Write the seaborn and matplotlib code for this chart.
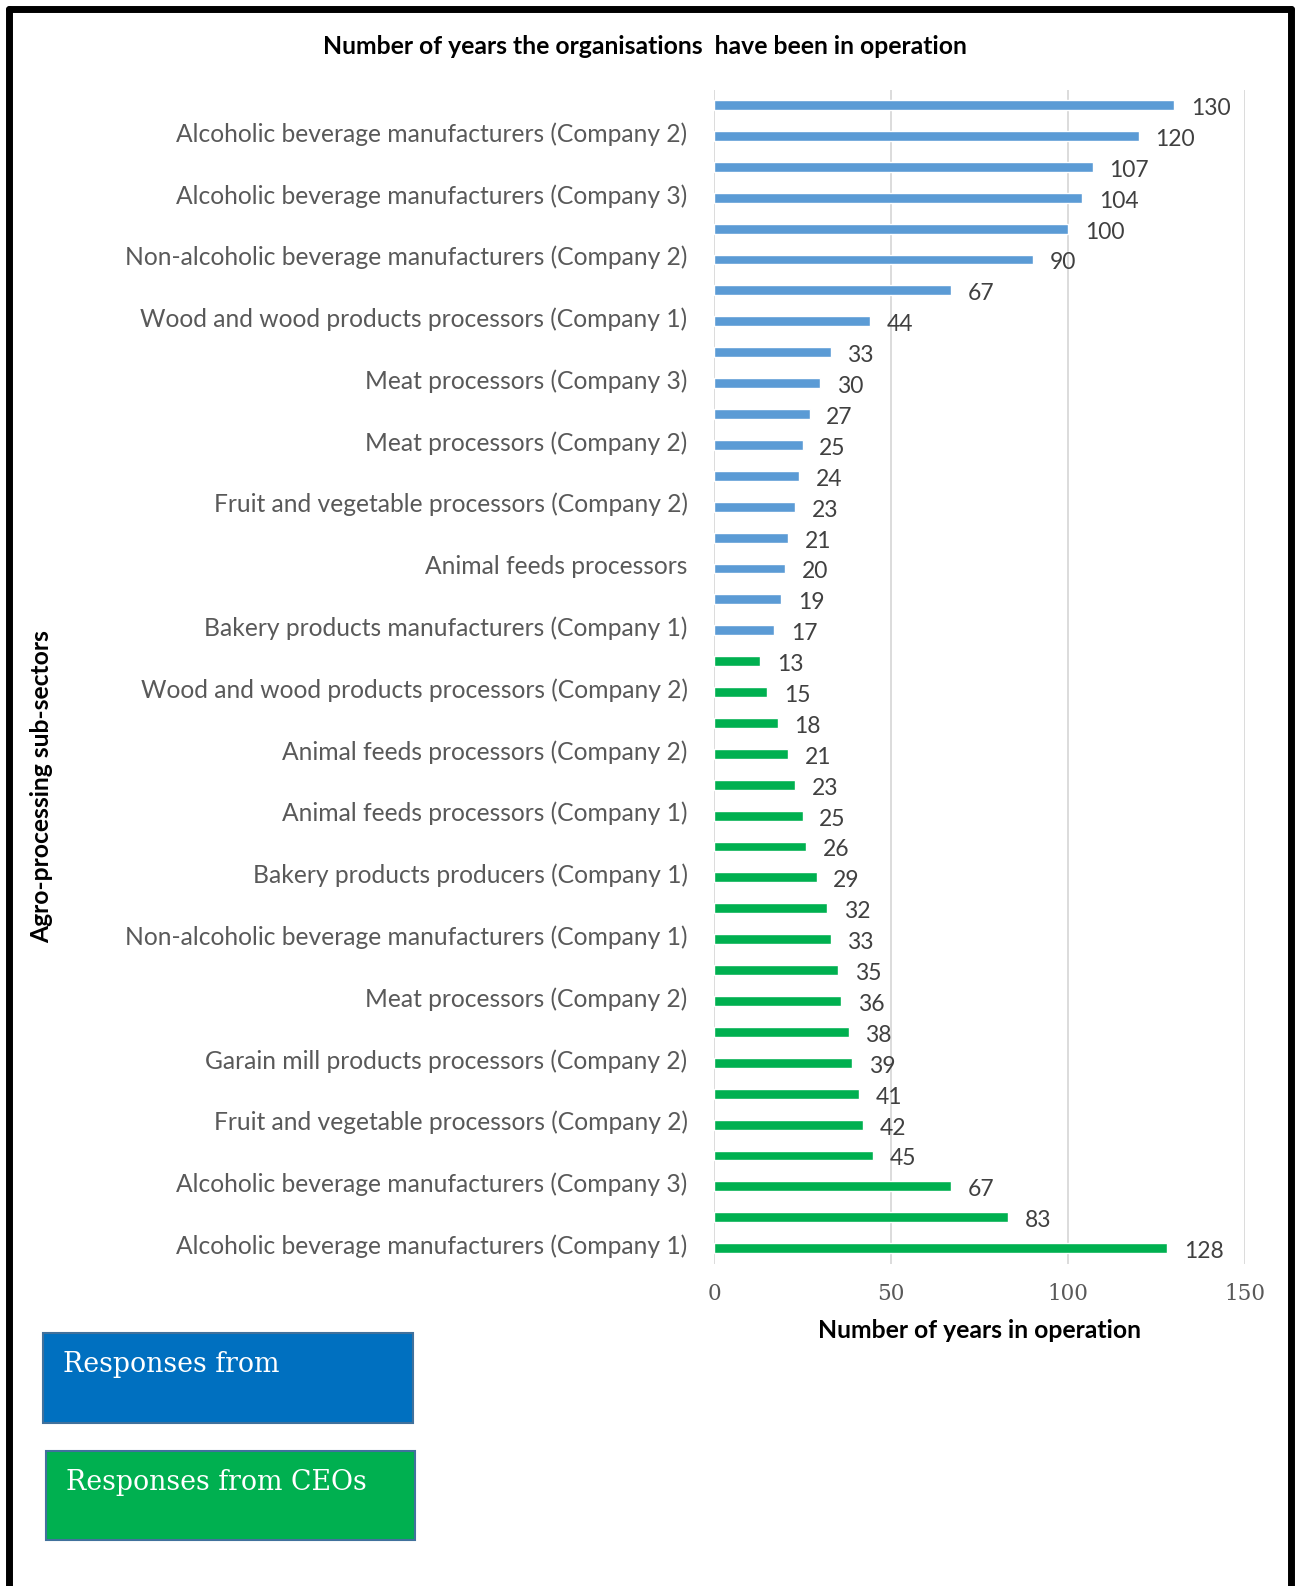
"""
Years in operation of agro-processing organisations, horizontal bar chart.
"""

import pandas as pd
import matplotlib.pyplot as plt
from matplotlib.patches import Rectangle
from matplotlib.lines import Line2D
from matplotlib.transforms import ScaledTranslation
import seaborn as sns

# data, top of chart first
manager_years = [130, 120, 107, 104, 100, 90, 67, 44, 33, 30, 27, 25, 24, 23, 21, 20, 19, 17]
ceo_years = [13, 15, 18, 21, 23, 25, 26, 29, 32, 33, 35, 36, 38, 39, 41, 42, 45, 67, 83, 128]

# only every second category carries a label (Excel style)
shown_labels = [
    "Alcoholic beverage manufacturers (Company 2)",
    "Alcoholic beverage manufacturers (Company 3)",
    "Non-alcoholic beverage manufacturers (Company 2)",
    "Wood and wood products processors (Company 1)",
    "Meat processors (Company 3)",
    "Meat processors (Company 2)",
    "Fruit and vegetable processors (Company 2)",
    "Animal feeds processors",
    "Bakery products manufacturers (Company 1)",
    "Wood and wood products processors (Company 2)",
    "Animal feeds processors (Company 2)",
    "Animal feeds processors (Company 1)",
    "Bakery products producers (Company 1)",
    "Non-alcoholic beverage manufacturers (Company 1)",
    "Meat processors (Company 2)",
    "Garain mill products processors (Company 2)",
    "Fruit and vegetable processors (Company 2)",
    "Alcoholic beverage manufacturers (Company 3)",
    "Alcoholic beverage manufacturers (Company 1)",
]
x_ticks = [0, 50, 100, 150]
group_names = ["Responses from", "Responses from CEOs"]

blue = "#5B9BD5"
green = "#00B050"

years = manager_years + ceo_years
groups = [group_names[0]] * len(manager_years) + [group_names[1]] * len(ceo_years)
slots = [str(i) for i in range(len(years))]
df = pd.DataFrame({"slot": slots, "years": years, "group": groups})

tick_labels = []
for i in range(len(years)):
    tick_labels.append(shown_labels[i // 2] if i % 2 == 1 else "")

sns.set_theme(style="white")
plt.rcParams["font.family"] = ["Lato", "DejaVu Sans"]

W, H = 1300, 1586
fig = plt.figure(figsize=(W / 100, H / 100), dpi=100)
ax = fig.add_axes([714 / W, 1 - 1263.6 / H, 531 / W, 1174 / H])

sns.barplot(
    data=df, x="years", y="slot", hue="group", order=slots,
    hue_order=group_names, palette=[blue, green], dodge=False,
    width=0.32, legend=False, orient="h", ax=ax, saturation=1,
)

# value labels, nudged a little below the bar centre like Excel does
for cont in ax.containers:
    for t in ax.bar_label(cont, fmt="{:.0f}", padding=12, fontsize=16.5, color="#404040"):
        t.xyann = (t.xyann[0], t.xyann[1] - 2.5)

ax.set_xlim(0, 150)
ax.set_xticks(x_ticks)
ax.set_xticklabels([str(t) for t in x_ticks], family=["DejaVu Serif"], fontsize=15.5, color="#595959")
ax.set_yticks(range(len(years)))
ax.set_yticklabels(tick_labels, fontsize=17.7, color="#595959")
ax.tick_params(axis="x", length=0, pad=14)
ax.tick_params(axis="y", length=0, pad=19)
up4 = ScaledTranslation(0, 4 / 100, fig.dpi_scale_trans)
for lbl in ax.get_yticklabels():
    lbl.set_transform(lbl.get_transform() + up4)
ax.set_xlabel("")
ax.set_ylabel("")
ax.xaxis.grid(True, color="#D9D9D9", linewidth=1.3)
ax.set_axisbelow(True)
sns.despine(ax=ax, left=True, bottom=True)

# titles
fig.text(645 / W, 1 - 47 / H, "Number of years the organisations  have been in operation",
         ha="center", va="center", fontsize=17.8, fontweight="bold", color="black")
fig.text(979 / W, 1 - 1330 / H, "Number of years in operation",
         ha="center", va="center", fontsize=17.8, fontweight="bold", color="black")
fig.text(42 / W, 1 - 787 / H, "Agro-processing sub-sectors", rotation=90,
         ha="center", va="center", fontsize=17.7, fontweight="bold", color="black")

# coloured boxes used as a legend
boxes = [
    (43, 1333, 370, 90, "#0070C0", group_names[0]),
    (46, 1451, 369, 89, "#00B050", group_names[1]),
]
for x0, y0, bw, bh, col, txt in boxes:
    fig.patches.append(Rectangle((x0 / W, 1 - (y0 + bh) / H), bw / W, bh / H,
                                 transform=fig.transFigure, facecolor=col,
                                 edgecolor="#41719C", linewidth=1.5))
    fig.text((x0 + 20) / W, 1 - (y0 + 31) / H, txt, ha="left", va="center",
             family=["DejaVu Serif"], fontsize=19.3, color="white")

# outer frame
for xs, ys in [([9, 1291], [9, 9]), ([9, 9], [9, H]), ([1291, 1291], [9, H])]:
    fig.lines.append(Line2D([x / W for x in xs], [1 - y / H for y in ys],
                            transform=fig.transFigure, color="black", linewidth=5))

plt.savefig("out.png", dpi=100)
plt.close()
